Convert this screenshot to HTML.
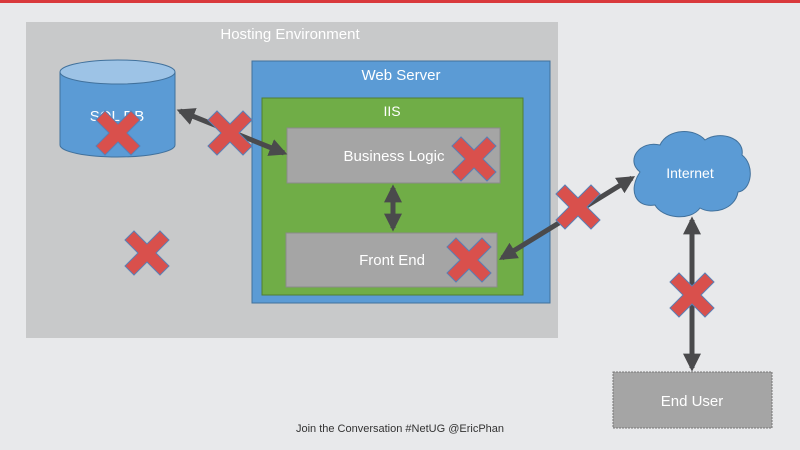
<!DOCTYPE html>
<html><head><style>body{margin:0}svg{display:block;font-family:"Liberation Sans",sans-serif}</style></head><body>
<svg width="800" height="450" viewBox="0 0 800 450" xmlns="http://www.w3.org/2000/svg">
<defs>
<marker id="a" viewBox="0 0 10 10" refX="8" refY="5" markerWidth="3.6" markerHeight="3.6" orient="auto-start-reverse"><path d="M0,0L10,5L0,10z" fill="#4a4a4c"/></marker>
<g id="x"><path d="M-22,-13L-13,-22L0,-9L13,-22L22,-13L9,0L22,13L13,22L0,9L-13,22L-22,13L-9,0Z" fill="#d9504c" stroke="#5a7fb5" stroke-width="1"/></g>
</defs>
<rect width="800" height="450" fill="#e8e9eb"/>
<rect width="800" height="3" fill="#d9393c"/>
<rect x="26" y="22" width="532" height="316" fill="#c8c9ca"/>
<text x="290" y="39" font-size="15" fill="#fff" text-anchor="middle">Hosting Environment</text>
<path d="M60,72 V145 A57.5,12 0 0 0 175,145 V72" fill="#5b9bd5" stroke="#41719c"/>
<ellipse cx="117.5" cy="72" rx="57.5" ry="12" fill="#9dc3e6" stroke="#41719c"/>
<text x="117" y="121" font-size="15" fill="#fff" text-anchor="middle">SQL DB</text>
<rect x="252" y="61" width="298" height="242" fill="#5b9bd5" stroke="#41719c"/>
<text x="401" y="80" font-size="15" fill="#fff" text-anchor="middle">Web Server</text>
<rect x="262" y="98" width="261" height="197" fill="#70ad47" stroke="#507e32"/>
<text x="392" y="116" font-size="14" fill="#fff" text-anchor="middle">IIS</text>
<rect x="287" y="128" width="213" height="55" fill="#a5a5a5" stroke="#8a8a8a"/>
<text x="394" y="161" font-size="15" fill="#fff" text-anchor="middle">Business Logic</text>
<rect x="286" y="233" width="211" height="54" fill="#a5a5a5" stroke="#8a8a8a"/>
<text x="392" y="265" font-size="15" fill="#fff" text-anchor="middle">Front End</text>
<path d="M640,172 C625,160 640,140 660,145 C668,128 695,128 705,140 C720,130 745,138 742,155 C755,165 752,190 738,192 C735,210 712,215 700,208 C690,222 662,218 655,205 C635,208 628,190 640,172Z" fill="#5b9bd5" stroke="#41719c"/>
<text x="690" y="178" font-size="14" fill="#fff" text-anchor="middle">Internet</text>
<rect x="613" y="372" width="159" height="56" fill="#a5a5a5" stroke="#777" stroke-dasharray="2,1"/>
<text x="692" y="406" font-size="15" fill="#fff" text-anchor="middle">End User</text>
<g stroke="#4a4a4c" stroke-width="5" marker-start="url(#a)" marker-end="url(#a)">
<line x1="180" y1="111" x2="284" y2="153"/>
<line x1="393" y1="188" x2="393" y2="228"/>
<line x1="502" y1="258" x2="632" y2="178"/>
<line x1="692" y1="220" x2="692" y2="368"/>
</g>
<use href="#x" x="118" y="133"/>
<use href="#x" x="230" y="133"/>
<use href="#x" x="147" y="253"/>
<use href="#x" x="474" y="159"/>
<use href="#x" x="469" y="260"/>
<use href="#x" x="578" y="207"/>
<use href="#x" x="692" y="295"/>
<text x="400" y="432" font-size="11" fill="#333" text-anchor="middle">Join the Conversation #NetUG @EricPhan</text>
</svg>
</body></html>
